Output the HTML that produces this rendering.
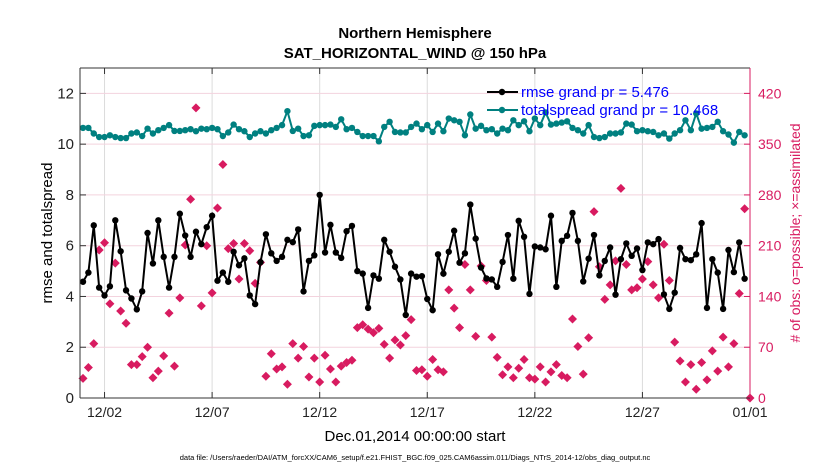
<!DOCTYPE html>
<html><head><meta charset="utf-8">
<style>
body{margin:0;background:#fff;width:830px;height:470px;overflow:hidden;font-family:"Liberation Sans",Arial,sans-serif;}
svg text{font-family:"Liberation Sans",Arial,sans-serif;}
</style></head>
<body>
<svg id="chart" width="830" height="470" xmlns="http://www.w3.org/2000/svg">
<rect width="830" height="470" fill="#fff"/>
<text x="415" y="38" text-anchor="middle" font-size="15" font-weight="bold">Northern Hemisphere</text>
<text x="415" y="58" text-anchor="middle" font-size="15" font-weight="bold">SAT_HORIZONTAL_WIND @ 150 hPa</text>
<g id="grid"></g>
<g id="series"></g>
<g id="axes"></g>
<text x="415" y="441" text-anchor="middle" font-size="15">Dec.01,2014 00:00:00 start</text>
<text x="415" y="460" text-anchor="middle" font-size="7.5">data file: /Users/raeder/DAI/ATM_forcXX/CAM6_setup/f.e21.FHIST_BGC.f09_025.CAM6assim.011/Diags_NTrS_2014-12/obs_diag_output.nc</text>
<text transform="translate(52,233) rotate(-90)" text-anchor="middle" font-size="15">rmse and totalspread</text>
<text transform="translate(800,233) rotate(-90)" text-anchor="middle" font-size="14" fill="#d81b60"># of obs: o=possible; ×=assimilated</text>
<g>
<line x1="487" y1="92" x2="518" y2="92" stroke="#000" stroke-width="2"/><circle cx="502" cy="92" r="3.2" fill="#000"/>
<text x="521" y="97" font-size="15" fill="#0000ff">rmse grand pr = 5.476</text>
<line x1="487" y1="110" x2="518" y2="110" stroke="#008080" stroke-width="2"/><circle cx="502" cy="110" r="3.2" fill="#008080"/>
<text x="521" y="115" font-size="15" fill="#0000ff">totalspread grand pr = 10.468</text>
</g>
</svg>
<script>
const rmse=[4.58,4.94,6.8,4.35,4.04,4.4,7.0,5.78,4.24,3.92,3.49,4.2,6.5,5.3,7.0,5.56,4.35,5.56,7.26,6.4,5.56,6.55,6.06,6.73,7.18,4.62,4.94,4.58,5.76,5.23,5.5,4.04,3.7,5.35,6.45,5.7,5.4,5.56,6.23,6.14,6.64,4.2,5.4,5.62,8.0,5.73,6.82,5.73,5.52,6.57,6.78,5.0,4.9,3.55,4.83,4.7,6.23,5.76,5.17,4.67,3.27,4.9,4.78,
4.8,3.9,3.46,5.66,4.9,5.76,6.59,5.33,5.7,7.62,6.28,5.14,4.71,4.67,4.38,5.36,6.42,4.7,6.98,6.35,4.1,5.97,5.93,5.86,7.18,4.38,6.19,6.39,7.29,6.19,4.59,5.49,6.42,4.83,5.4,5.93,4.07,5.47,6.09,5.6,5.89,5.04,6.13,6.06,6.26,4.08,3.51,4.15,5.91,5.47,5.43,5.66,6.89,3.55,5.47,4.94,3.51,5.83,4.96,6.13,4.7];
const spread=[10.64,10.64,10.42,10.28,10.28,10.35,10.28,10.24,10.24,10.42,10.46,10.32,10.61,10.42,10.55,10.64,10.75,10.52,10.52,10.55,10.59,10.51,10.61,10.59,10.64,10.59,10.32,10.46,10.77,10.59,10.51,10.28,10.42,10.51,10.42,10.55,10.64,10.75,11.3,10.52,10.61,10.32,10.35,10.72,10.75,10.75,10.77,10.68,10.98,10.59,10.64,10.48,10.32,10.32,10.32,10.11,10.68,10.88,10.48,10.46,10.46,10.68,10.81,
10.59,10.75,10.48,10.81,10.51,11.01,10.94,10.88,10.35,11.17,10.61,10.72,10.55,10.59,10.42,10.61,10.55,10.94,10.75,10.9,10.51,11.01,10.75,11.25,10.77,10.81,10.85,10.9,10.64,10.55,10.42,10.75,10.28,10.24,10.28,10.42,10.42,10.46,10.81,10.77,10.51,10.55,10.51,10.48,10.35,10.42,10.22,10.42,10.55,10.94,10.55,11.21,10.61,10.64,10.68,10.88,10.51,10.38,10.06,10.48,10.35];
const obsCount=[27,42,75,204,214,130,186,120,103,46,46,57,70,28,37,58,117,44,138,211,274,400,127,210,145,262,322,206,213,164,213,203,158,187,30,61,40,43,19,75,55,71,29,55,22,59,40,22,44,49,52,97,101,95,90,96,74,55,80,73,86,108,38,
39,30,53,39,36,149,124,97,184,149,85,182,162,84,56,32,43,28,41,53,28,26,43,22,36,46,31,28,109,71,33,83,257,181,136,156,189,289,184,149,152,164,188,156,138,212,162,77,51,22,46,12,49,25,65,37,84,43,75,144,261,0];
const xTickDays=[2,7,12,17,22,27,32];
const xTickLabels=['12/02','12/07','12/12','12/17','12/22','12/27','01/01'];
const yTicks=[0,2,4,6,8,10,12];
const yRightTicks=[0,70,140,210,280,350,420];
const startDay=1, stepDay=0.25;

const L=80,R=750,T=68,B=398;
const dMin=0.86,dMax=32,yMax=13,rMax=455;
const X=d=>L+(d-dMin)/(dMax-dMin)*(R-L);
const Y=v=>B-v/yMax*(B-T);
const YR=v=>B-v/rMax*(B-T);
const NS='http://www.w3.org/2000/svg';
function mk(tag,attrs,parent){const e=document.createElementNS(NS,tag);for(const k in attrs)e.setAttribute(k,attrs[k]);parent.appendChild(e);return e;}
const grid=document.getElementById('grid'),ser=document.getElementById('series'),ax=document.getElementById('axes');
xTickDays.forEach((d,i)=>{
  const g=mk('line',{x1:X(d),x2:X(d),y1:T,y2:B,stroke:'#dcdcdc','stroke-width':1},grid);
  
  
  mk('line',{x1:X(d),x2:X(d),y1:B,y2:B-6,stroke:'#333'},ax);
  mk('line',{x1:X(d),x2:X(d),y1:T,y2:T+6,stroke:'#333'},ax);
  const t=mk('text',{x:X(d),y:B+19,'text-anchor':'middle','font-size':14,fill:'#222'},ax);
  t.textContent=xTickLabels[i];
  
  
});
yTicks.forEach(v=>{
  const g=mk('line',{x1:L,x2:R,y1:Y(v),y2:Y(v),stroke:'#f3d3de','stroke-width':1},grid);
  
  
  mk('line',{x1:L,x2:L+6,y1:Y(v),y2:Y(v),stroke:'#333'},ax);
  const t=mk('text',{x:L-6,y:Y(v)+5,'text-anchor':'end','font-size':15,fill:'#222'},ax);
  t.textContent=v;
  
  
});
yRightTicks.forEach(v=>{
  mk('line',{x1:R,x2:R-6,y1:YR(v),y2:YR(v),stroke:'#d81b60'},ax);
  const t=mk('text',{x:R+8,y:YR(v)+5,'font-size':14,fill:'#d81b60'},ax);
  t.textContent=v;
  
  
});
mk('line',{x1:L,x2:L,y1:T,y2:B,stroke:'#333'},ax);
mk('line',{x1:L,x2:R,y1:T,y2:T,stroke:'#333'},ax);
mk('line',{x1:L,x2:R,y1:B,y2:B,stroke:'#333'},ax);
mk('line',{x1:R,x2:R,y1:T,y2:B,stroke:'#d81b60'},ax);
obsCount.forEach((v,i)=>{
  const x=X(startDay+i*stepDay),y=YR(v),s=4.5;
  const p=mk('polygon',{points:`${x},${y-s} ${x+s},${y} ${x},${y+s} ${x-s},${y}`,fill:'#d81b60'},ser);
  
  
});
function line(arr,color,name){
  const pts=arr.map((v,i)=>X(startDay+i*stepDay)+','+Y(v)).join(' ');
  const pl=mk('polyline',{points:pts,fill:'none',stroke:color,'stroke-width':2},ser);
  
  
  arr.forEach((v,i)=>{
    const c=mk('circle',{cx:X(startDay+i*stepDay),cy:Y(v),r:3.2,fill:color},ser);
    
    
  });
}
line(spread,'#008080','totalspread');
line(rmse,'#000','rmse');
</script>
</body></html>
